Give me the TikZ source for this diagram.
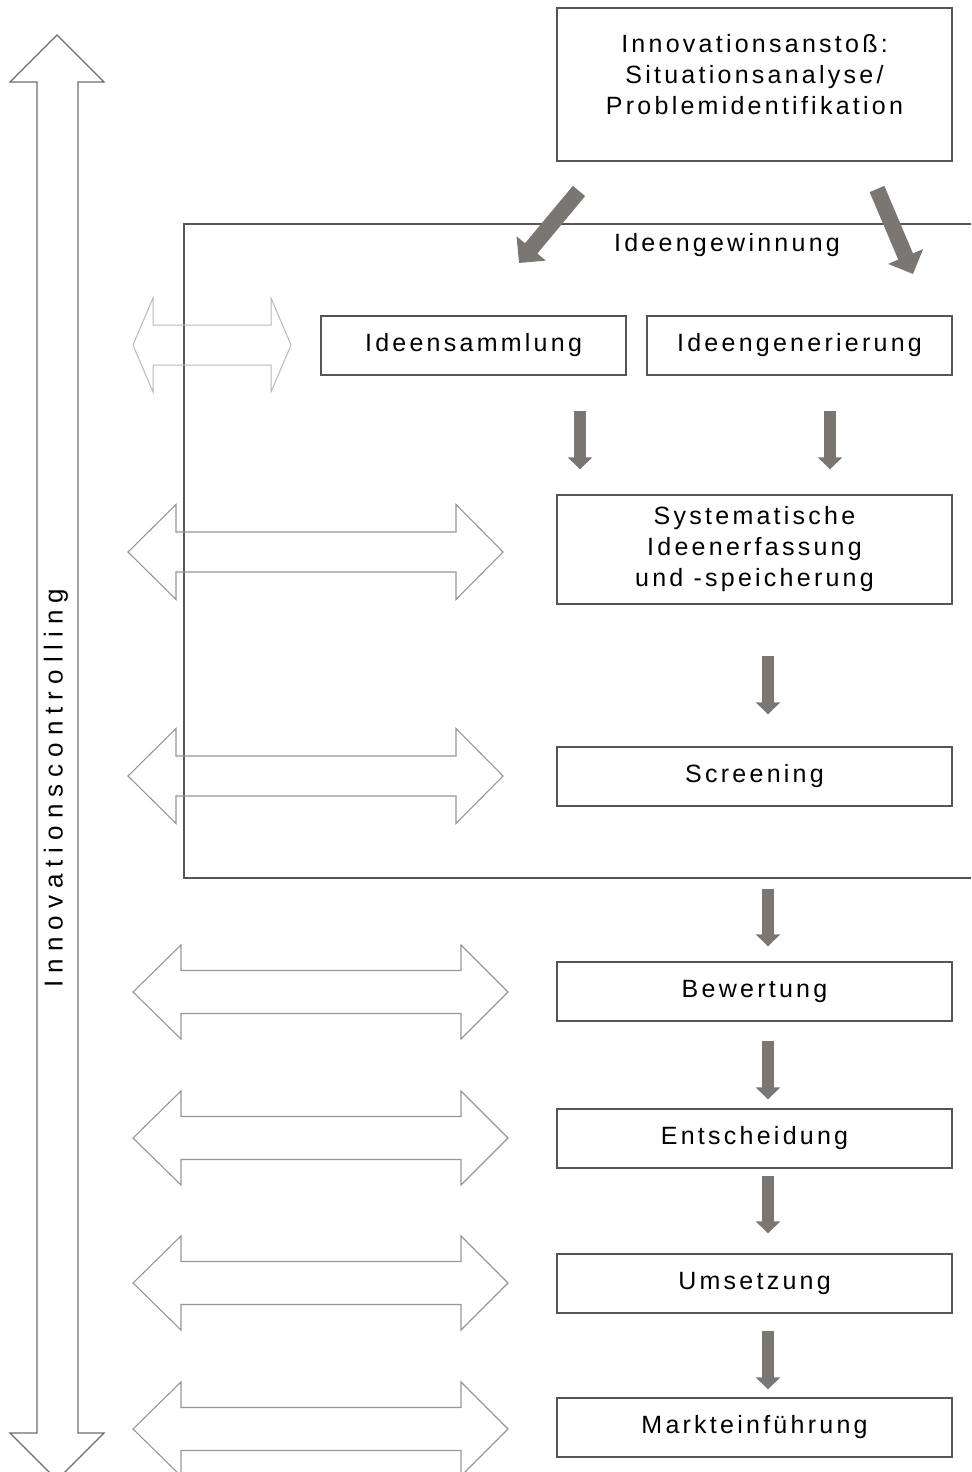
\documentclass[tikz,border=0pt]{standalone}
\usepackage{fontspec}
\setmainfont{Liberation Sans}[LetterSpace=13]
\newfontfamily\widefont{Liberation Sans}[LetterSpace=27]
\usetikzlibrary{arrows.meta,calc}

\definecolor{flowgray}{RGB}{122,119,114}
\definecolor{framegray}{RGB}{85,85,85}
\definecolor{outlinegray}{RGB}{150,150,150}
\definecolor{palegray}{RGB}{185,185,185}
\definecolor{biggray}{RGB}{110,110,110}

% horizontal double arrow outline:
% #1 style, #2 left tip, #3 left head base, #4 right head base, #5 right tip,
% #6 centre y, #7 half head height, #8 half shaft height
\newcommand\hdarrow[8]{%
  \draw[#1] (#2,#6) -- (#3,#6-#7) -- (#3,#6-#8) -- (#4,#6-#8) -- (#4,#6-#7)
    -- (#5,#6) -- (#4,#6+#7) -- (#4,#6+#8) -- (#3,#6+#8) -- (#3,#6+#7) -- cycle;}

\begin{document}
\begin{tikzpicture}[x=0.5pt,y=-0.5pt,
  box/.style={draw=framegray, line width=0.7pt, fill=white, inner sep=0pt,
    minimum width=197.5pt, minimum height=29.5pt, align=center,
    font=\fontsize{12.5}{15.5}\selectfont},
  halfbox/.style={box, minimum width=152.5pt},
  label/.style={inner sep=0pt, align=center, font=\fontsize{12.5}{15.5}\selectfont},
  flow/.style={draw=flowgray, line width=6pt,
    -{Triangle[width=12pt,length=6pt]}},
  bigflow/.style={draw=flowgray, line width=8pt,
    -{Triangle[width=18.5pt,length=9.5pt]}},
  dbl/.style={draw=outlinegray, line width=0.55pt, line join=miter},
  dblpale/.style={draw=palegray, line width=0.5pt, line join=miter},
  frame/.style={draw=framegray, line width=0.55pt}]

\useasboundingbox (0,0) rectangle (971,1472);
\clip (0,0) rectangle (971,1472);

% controlling arrow along the whole process
\draw[draw=biggray, line width=0.55pt, line join=miter]
  (57,35) -- (104,82) -- (78,82) -- (78,1433) -- (104,1433) -- (57,1480)
  -- (10,1433) -- (37,1433) -- (37,82) -- (10,82) -- cycle;
\node[rotate=90, inner sep=0pt, font=\widefont\fontsize{13}{15}\selectfont]
  (ctrl) at (56,788) {Innovationscontrolling};

% frame of the idea generation phase
\draw[frame] (971,224) -- (184,224) -- (184,878) -- (971,878);
\node[label] (gew) at (727,245) {Ideengewinnung};

% controlling links per phase
\hdarrow{dblpale}{133}{153}{271}{291}{345}{47}{20}
\hdarrow{dbl}{128}{176}{456}{503}{552}{47.5}{20}
\hdarrow{dbl}{128}{176}{456}{503}{776}{47.5}{20}
\hdarrow{dbl}{133}{181}{461}{508}{992}{47}{21.5}
\hdarrow{dbl}{133}{181}{461}{508}{1138}{47}{21.5}
\hdarrow{dbl}{133}{181}{461}{508}{1283}{47}{21.5}
\hdarrow{dbl}{133}{181}{461}{508}{1429}{47}{21.5}

% process steps
\node[box, minimum height=76.5pt] (start) at (754.5,84.5) {};
\node[label] (starttext) at (754.5,75)
  {Innovationsansto\ss:\\Situationsanalyse/\\Problemidentifikation};
\node[halfbox] (sam) at (473.5,345.5) {Ideensammlung};
\node[halfbox] (gen) at (799.5,345.5) {Ideengenerierung};
\node[box, minimum height=54.5pt] (sys) at (754.5,549.5)
  {Systematische\\Ideenerfassung\\und -speicherung};
\node[box] (scr) at (754.5,776.5) {Screening};
\node[box] (bew) at (754.5,991.5) {Bewertung};
\node[box] (ent) at (754.5,1138.5) {Entscheidung};
\node[box] (ums) at (754.5,1283.5) {Umsetzung};
\node[box] (mkt) at (754.5,1427.5) {Markteinführung};

% flow arrows
\coordinate (lt) at (579,191);
\coordinate (lh) at (519,263);
\coordinate (rt) at (877,189);
\coordinate (rh) at (913,274);
\draw[bigflow] (lt) -- (lh);
\draw[bigflow] (rt) -- (rh);

\coordinate (cl) at (580,0);
\coordinate (cr) at (830,0);
\coordinate (cm) at (768,0);
\draw[flow, shorten <=17.5pt, shorten >=12.5pt] (sam.south -| cl) -- (sys.north -| cl);
\draw[flow, shorten <=17.5pt, shorten >=12.5pt] (gen.south -| cr) -- (sys.north -| cr);
\draw[flow, shorten <=25.5pt, shorten >=16pt] (sys.south -| cm) -- (scr.north -| cm);
\draw[flow, shorten <=41pt, shorten >=7.5pt] (scr.south -| cm) -- (bew.north -| cm);
\draw[flow, shorten <=9.5pt, shorten >=4.5pt] (bew.south -| cm) -- (ent.north -| cm);
\draw[flow, shorten <=3.5pt, shorten >=10pt] (ent.south -| cm) -- (ums.north -| cm);
\draw[flow, shorten <=8.5pt, shorten >=4pt] (ums.south -| cm) -- (mkt.north -| cm);
\end{tikzpicture}
\end{document}
